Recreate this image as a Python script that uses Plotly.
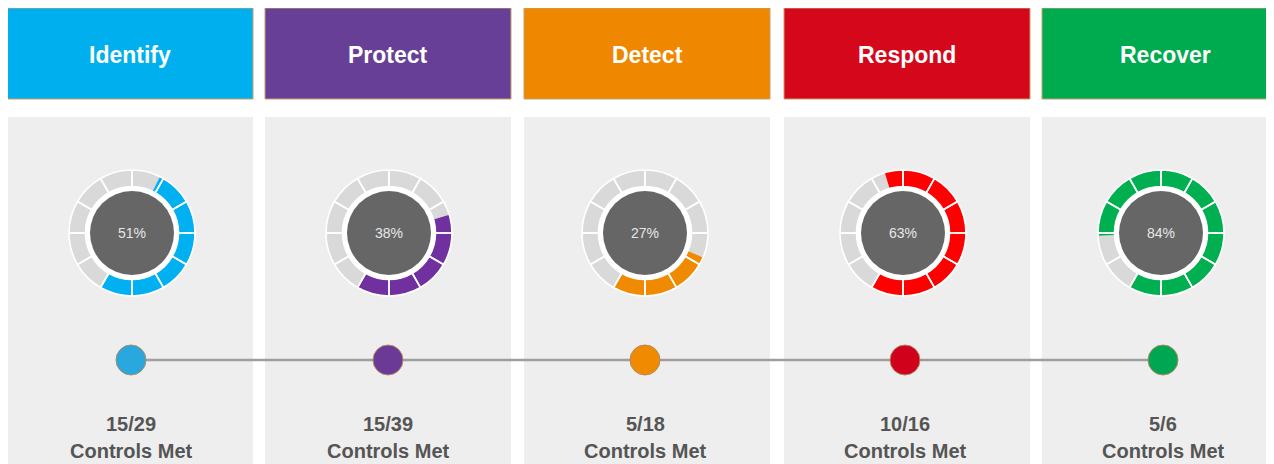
import plotly.graph_objects as go

# ---- data ----
functions = ["Identify", "Protect", "Detect", "Respond", "Recover"]
controls_met = [15, 15, 5, 10, 5]
controls_total = [29, 39, 18, 16, 6]
pct_met = [51, 38, 27, 63, 84]
header_colors = ["#00B0EE", "#673F96", "#EF8700", "#D5081B", "#00AA4F"]
ring_colors = ["#00B0F0", "#7030A0", "#F08A00", "#FF0000", "#00B050"]
dot_colors = ["#29A8E0", "#6B3A96", "#F08A00", "#D0021B", "#00A651"]

W, H = 1274, 464
OFF = 8  # page body margin: data coords == page pixel coords
panel_left = [7, 265, 524, 784, 1042]
panel_w = 246
donut_cx = [132, 389, 645, 903, 1161]
donut_cy = 233
dot_x = [131, 388, 645, 905, 1163]
dot_y = 360
R_OUT = 63
HOLE = 46.5 / 63

fig = go.Figure()
shapes = []
annotations = []
FONT = "Liberation Sans, Arial"

for i, name in enumerate(functions):
    x0 = panel_left[i]
    shapes.append(dict(type="rect", xref="x", yref="y", x0=x0, x1=x0 + panel_w, y0=8, y1=99,
                       fillcolor=header_colors[i], line=dict(color="#C9A06A", width=1), layer="below"))
    shapes.append(dict(type="rect", xref="x", yref="y", x0=x0, x1=x0 + panel_w, y0=117, y1=480,
                       fillcolor="#EEEEEE", line=dict(width=0), layer="below"))
    cx = donut_cx[i]
    shapes.append(dict(type="circle", xref="x", yref="y", x0=cx - 47, x1=cx + 47,
                       y0=donut_cy - 47, y1=donut_cy + 47, fillcolor="white",
                       line=dict(width=0), layer="below"))
    shapes.append(dict(type="circle", xref="x", yref="y", x0=cx - 42, x1=cx + 42,
                       y0=donut_cy - 42, y1=donut_cy + 42, fillcolor="#666666",
                       line=dict(width=0), layer="below"))

    annotations.append(dict(x=x0 + panel_w / 2, y=55, xref="x", yref="y", text=f"<b>{name}</b>",
                            showarrow=False, font=dict(family=FONT, size=23, color="white")))
    annotations.append(dict(x=cx, y=donut_cy, xref="x", yref="y", text=f"{pct_met[i]}%",
                            showarrow=False, font=dict(family=FONT, size=14, color="#E6E6E6")))
    annotations.append(dict(x=dot_x[i], y=424, xref="x", yref="y",
                            text=f"<b>{controls_met[i]}/{controls_total[i]}</b>",
                            showarrow=False, font=dict(family=FONT, size=20, color="#555555")))
    annotations.append(dict(x=dot_x[i], y=451, xref="x", yref="y", text="<b>Controls Met</b>",
                            showarrow=False, font=dict(family=FONT, size=20, color="#555555")))

    fx, fy = cx - OFF, donut_cy - OFF
    dom = dict(x=[(fx - R_OUT) / W, (fx + R_OUT) / W],
               y=[1 - (fy + R_OUT) / H, 1 - (fy - R_OUT) / H])
    p = pct_met[i]
    fig.add_trace(go.Pie(values=[100 - p, p], marker=dict(colors=["#D9D9D9", ring_colors[i]],
                                                         line=dict(width=0)),
                         hole=HOLE, sort=False, direction="clockwise", rotation=210,
                         textinfo="none", hoverinfo="skip", showlegend=False, domain=dom))
    fig.add_trace(go.Pie(values=[1] * 12, marker=dict(colors=["rgba(0,0,0,0)"] * 12,
                                                     line=dict(color="white", width=1.6)),
                         hole=HOLE, sort=False, direction="clockwise", rotation=0,
                         textinfo="none", hoverinfo="skip", showlegend=False, domain=dom))

fig.add_trace(go.Scatter(x=[dot_x[0], dot_x[-1]], y=[dot_y, dot_y], mode="lines",
                         line=dict(color="#9E9E9E", width=2.5), hoverinfo="skip", showlegend=False))
fig.add_trace(go.Scatter(x=dot_x, y=[dot_y] * 5, mode="markers",
                         marker=dict(size=30, color=dot_colors, line=dict(color="#B08A60", width=1)),
                         hoverinfo="skip", showlegend=False))

fig.update_layout(
    width=W, height=H, margin=dict(l=0, r=0, t=0, b=0),
    paper_bgcolor="white", plot_bgcolor="white",
    xaxis=dict(range=[OFF, W + OFF], visible=False, fixedrange=True),
    yaxis=dict(range=[H + OFF, OFF], visible=False, fixedrange=True),
    shapes=shapes, annotations=annotations,
)

fig.write_html("out.html")
